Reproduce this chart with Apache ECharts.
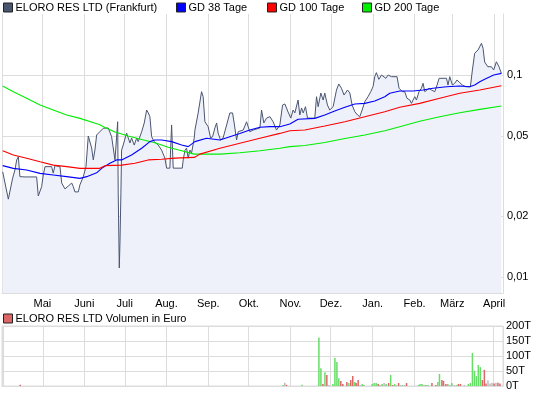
<!DOCTYPE html>
<html><head><meta charset="utf-8">
<script src="https://cdn.jsdelivr.net/npm/echarts@6/dist/echarts.min.js"></script>
<style>html,body{margin:0;padding:0;background:#fff}#c{width:545px;height:395px}</style>
</head><body><div id="c"></div>
<script>
const startDate = '2012-04-01T00:00:00';
const endDate = '2013-04-07T14:24:00';
const monthNames = ['Jan.','Feb.','März','April','Mai','Juni','Juli','Aug.','Sep.','Okt.','Nov.','Dez.'];
const yTicks = [0.01, 0.02, 0.05, 0.1];
const volTicks = [0, 50, 100, 150, 200];
const seriesNames = ['ELORO RES LTD (Frankfurt)', 'GD 38 Tage', 'GD 100 Tage', 'GD 200 Tage'];
const volName = 'ELORO RES LTD Volumen in Euro';

// price: day offset from startDate, closing price (EUR)
const priceDay = [
0.5,4.7,7.9,9.6,10.9,12.1,13.3,17.0,25.7,26.9,
28.2,29.4,30.6,31.9,36.8,38.0,39.3,43.0,44.3,46.7,
49.1,51.7,52.9,54.1,56.6,57.8,60.3,62.3,64.0,65.2,
66.5,67.7,68.9,70.2,72.6,75.1,78.8,81.3,83.8,85.8,
86.2,87.0,87.5,88.2,88.7,89.9,92.4,93.6,94.9,96.1,
98.1,99.9,101.0,103.6,105.5,107.3,108.5,109.7,111.0,112.9,
115.9,118.4,120.8,122.1,124.5,125.8,127.0,133.7,134.4,135.7,
136.9,138.1,139.4,140.6,142.6,143.1,145.5,148.0,149.2,150.5,
152.9,154.7,156.2,157.9,159.2,160.3,162.1,164.0,166.6,169.0,
171.0,172.2,174.0,175.2,178.9,181.4,182.6,183.8,186.3,191.3,
192.5,194.2,196.2,198.7,201.1,203.6,206.1,208.1,209.8,212.2,
214.2,215.9,217.2,219.6,220.9,222.2,223.4,225.1,226.6,232.0,
233.3,234.5,236.5,238.2,239.4,241.4,243.1,245.6,248.1,249.8,
251.8,253.7,256.3,258.0,259.7,261.7,263.7,265.4,267.1,269.1,
271.5,273.5,275.2,276.5,277.7,279.5,281.5,284.7,286.4,288.9,
293.0,294.5,297.0,298.7,300.4,302.5,303.7,304.9,306.2,307.4,
309.3,311.1,312.3,313.6,314.8,316.8,318.5,321.0,322.7,324.2,
329.7,330.8,332.1,334.1,335.8,337.5,339.5,341.5,344.0,347.4,
348.9,350.6,353.1,355.6,356.8,358.0,360.3,363.0,364.7,366.7,
368.6,370.4];
const priceVal = [
.0332,.0243,.0309,.0339,.0380,.0394,.0314,.0313,.0313,.0252,
.0252,.0280,.0320,.0352,.0352,.0327,.0356,.0352,.0292,.0273,
.0282,.0292,.0280,.0264,.0264,.0286,.0314,.0352,.0499,.0499,
.0435,.0380,.0425,.0505,.0524,.0545,.0547,.0495,.0380,.0587,
.0261,.0111,.0149,.0261,.0425,.0450,.0516,.0516,.0461,.0488,
.0450,.0488,.0468,.0524,.0579,.0671,.0649,.0622,.0495,.0468,
.0450,.0425,.0388,.0346,.0346,.0566,.0346,.0346,.0380,.0425,
.0435,.0388,.0425,.0411,.0488,.0534,.0649,.0827,.0781,.0587,
.0555,.0488,.0495,.0547,.0579,.0516,.0477,.0488,.0566,.0649,
.0649,.0579,.0477,.0524,.0534,.0587,.0555,.0524,.0534,.0547,
.0671,.0579,.0612,.0622,.0587,.0534,.0566,.0710,.0719,.0656,
.0612,.0671,.0649,.0752,.0634,.0687,.0649,.0697,.0612,.0612,
.0781,.0697,.0814,.0752,.0814,.0710,.0671,.0697,.0843,.0903,
.0860,.0796,.0843,.0814,.0710,.0658,.0634,.0622,.0671,.0738,
.0781,.0827,.0875,.0981,.1027,.0952,.1000,.0963,.1000,.0981,
.0981,.0860,.0827,.0827,.0767,.0752,.0724,.0752,.0781,.0752,
.0827,.0860,.0910,.0827,.0843,.0860,.0843,.0827,.0892,.0963,
.0963,.0892,.0981,.0892,.0910,.0945,.0916,.0892,.0875,.0875,
.1059,.1281,.1330,.1435,.1356,.1160,.1099,.1099,.1059,.1163,
.1099,.1019];

const gd38Day = [0.5,8.4,18.3,28.2,38.0,48.0,57.8,62.8,70.2,73.9,80.0,85.0,88.7,96.1,103.6,109.7,113.4,118.4,125.8,133.2,138.1,143.1,151.7,161.6,169.0,176.4,183.8,191.3,198.7,206.1,213.5,219.6,232.0,239.4,246.8,254.3,261.7,269.1,276.5,283.9,287.6,295.0,304.9,312.3,319.7,329.7,339.5,346.9,350.6,354.4,358.0,364.7,370.4];
const gd38Val = [.0356,.0345,.0339,.0326,.0320,.0314,.0308,.0314,.0328,.0345,.0366,.0380,.0380,.0402,.0434,.0468,.0477,.0477,.0468,.0450,.0442,.0468,.0486,.0477,.0495,.0514,.0534,.0551,.0555,.0555,.0572,.0604,.0610,.0634,.0663,.0692,.0719,.0724,.0743,.0781,.0812,.0833,.0833,.0843,.0860,.0875,.0882,.0875,.0892,.0926,.0952,.1000,.1019];

const gd100Day = [0.5,8.4,18.3,28.2,38.0,48.0,57.8,72.1,76.4,88.7,98.6,108.5,118.4,128.2,142.6,146.8,161.6,176.4,191.3,206.1,213.5,224.6,239.4,254.3,269.1,283.9,295.0,309.8,324.7,339.5,354.4,370.4];
const gd100Val = [.0422,.0402,.0387,.0372,.0358,.0352,.0345,.0345,.0356,.0358,.0366,.0380,.0383,.0388,.0391,.0406,.0434,.0459,.0486,.0514,.0530,.0534,.0559,.0587,.0622,.0658,.0692,.0724,.0767,.0812,.0843,.0885];

const gd200Day = [0.5,8.4,18.3,28.2,38.0,48.0,57.8,72.1,76.4,83.8,93.6,103.6,113.4,123.3,133.2,142.6,146.8,161.6,176.4,191.3,206.1,213.5,224.6,239.4,254.3,269.1,283.9,295.0,309.8,324.7,339.5,354.4,370.4];
const gd200Val = [.0882,.0827,.0767,.0710,.0671,.0634,.0610,.0569,.0550,.0522,.0499,.0480,.0462,.0439,.0422,.0406,.0406,.0406,.0412,.0422,.0434,.0442,.0448,.0463,.0485,.0505,.0530,.0555,.0590,.0622,.0650,.0676,.0703];

// volume: day offset, thousand EUR, direction (g = up, r = down, n = unchanged)
const volDay = [13.0,208.5,209.8,211.1,222.6,235.2,236.7,238.2,239.7,241.1,242.6,245.6,247.1,248.6,250.0,251.5,253.0,256.0,257.5,258.9,260.4,261.9,262.9,264.4,265.9,267.4,268.6,274.8,276.3,277.8,279.3,280.7,282.2,283.7,285.2,287.1,288.6,290.1,291.6,293.0,294.5,296.0,297.5,299.0,300.4,309.3,310.4,311.9,313.4,314.8,316.3,319.3,322.2,323.7,324.9,326.7,327.9,329.7,331.1,332.6,334.1,336.0,337.5,339.0,340.5,343.4,346.4,347.9,349.4,350.9,352.3,353.8,355.3,356.8,358.3,359.5,361.0,362.5,364.0,365.5,366.9,368.4,369.9];
const volVal = [4,3,11,4,4,162,59,7,46,37,3,7,93,80,26,17,7,13,10,20,33,13,10,20,3,7,3,7,10,10,7,3,7,10,7,10,37,3,7,3,10,3,3,3,10,3,7,7,3,3,3,10,3,13,40,20,17,7,7,3,10,3,3,7,7,3,7,10,110,51,33,70,63,20,54,8,18,8,11,8,11,11,8];
const volDir = ['r','g','n','r','g','g','g','r','g','r','n','g','g','g','g','r','r','r','g','r','r','g','r','r','n','g','g','g','g','g','r','n','g','n','g','r','g','r','g','n','r','n','g','n','r','g','g','g','n','g','g','r','r','g','g','r','r','r','g','n','g','n','g','r','r','n','g','g','g','g','g','g','g','r','r','r','n','n','n','r','n','r','r'];

const DAY = 86400000;
const t0 = new Date(startDate).getTime();
const tEnd = new Date(endDate).getTime();
const pair = (days, vals) => days.map((d, i) => [t0 + d * DAY, vals[i]]);
const dirColor = {g: '#66dd66', r: '#dd6666', n: '#bbbbbb'};

const FONT = 'Liberation Sans, Arial, sans-serif';
const grid = '#dcdcdc';
const txt = {fontFamily: FONT, fontSize: 11, color: '#000'};
const logMin = 0.00834, logMax = 0.2004;

const chart = echarts.init(document.getElementById('c'), null, {renderer: 'canvas'});
const xCommon = {
  type: 'time', min: t0, max: tEnd, splitNumber: 12,
  minInterval: 28 * DAY, maxInterval: 31 * DAY,
  axisTick: {show: false},
  axisLine: {show: true, lineStyle: {color: grid}},
  splitLine: {show: true, lineStyle: {color: grid, width: 1}}
};
chart.setOption({
  animation: false,
  textStyle: {fontFamily: FONT},
  legend: [
    {left: 3, top: 2, data: [seriesNames[0]]},
    {left: 176, top: 2, data: [seriesNames[1]]},
    {left: 267, top: 2, data: [seriesNames[2]]},
    {left: 362, top: 2, data: [seriesNames[3]]},
    {left: 3, top: 313, data: [volName]}
  ].map(l => Object.assign(l, {
    icon: 'rect', itemWidth: 9, itemHeight: 9, itemGap: 0, padding: 0,
    textStyle: Object.assign({}, txt, {padding: [0, 0, 0, -2]}),
    itemStyle: {borderColor: '#222', borderWidth: 1}
  })),
  grid: [
    {left: 2, right: 42, top: 14, bottom: 102, show: false, outerBoundsMode: 'none', containLabel: false},
    {left: 2, right: 42, top: 326, bottom: 9, show: true, borderColor: grid, borderWidth: 1, outerBoundsMode: 'none', containLabel: false}
  ],
  xAxis: [
    Object.assign({}, xCommon, {gridIndex: 0,
      axisLabel: Object.assign({}, txt, {margin: 5, showMinLabel: false,
        formatter: v => (v < t0 + 2 * DAY ? '' : monthNames[new Date(v).getMonth()])})}),
    Object.assign({}, xCommon, {gridIndex: 1, axisLabel: {show: false}})
  ],
  yAxis: [
    {type: 'log', logBase: 10, gridIndex: 0, position: 'right', min: logMin, max: logMax,
      axisLine: {show: true, lineStyle: {color: grid}},
      axisTick: {show: false, customValues: yTicks},
      axisLabel: Object.assign({}, txt, {margin: 4, customValues: yTicks,
        formatter: v => String(parseFloat(Number(v).toPrecision(3))).replace('.', ',')}),
      splitLine: {show: true, lineStyle: {color: grid, width: 1}}},
    {type: 'value', gridIndex: 1, position: 'right', min: volTicks[0], max: volTicks[volTicks.length - 1], interval: 50,
      axisLine: {show: false}, axisTick: {show: false},
      axisLabel: Object.assign({}, txt, {margin: 3, formatter: v => v + 'T'}),
      splitLine: {show: true, lineStyle: {color: grid, width: 1}}},
    {type: 'log', logBase: 10, gridIndex: 0, position: 'left', min: logMin, max: logMax,
      axisLine: {show: true, lineStyle: {color: grid}},
      axisTick: {show: false}, axisLabel: {show: false}, splitLine: {show: false}}
  ],
  series: [
    {name: seriesNames[0], type: 'line', xAxisIndex: 0, yAxisIndex: 0, data: pair(priceDay, priceVal),
      showSymbol: false, symbol: 'none', color: '#4a5570',
      lineStyle: {color: '#4a5570', width: 1},
      areaStyle: {color: '#eef1f9', opacity: 1, origin: 'start'}, z: 2},
    {name: seriesNames[1], type: 'line', data: pair(gd38Day, gd38Val), showSymbol: false, symbol: 'none',
      color: '#0000ff', lineStyle: {color: '#0000ff', width: 1.1}, z: 4},
    {name: seriesNames[2], type: 'line', data: pair(gd100Day, gd100Val), showSymbol: false, symbol: 'none',
      color: '#ff0000', lineStyle: {color: '#ff0000', width: 1.1}, z: 4},
    {name: seriesNames[3], type: 'line', data: pair(gd200Day, gd200Val), showSymbol: false, symbol: 'none',
      color: '#00ee00', lineStyle: {color: '#00ee00', width: 1.1}, z: 3},
    {name: volName, type: 'bar', xAxisIndex: 1, yAxisIndex: 1, color: '#dd6666', barWidth: 1.5,
      data: volDay.map((d, i) => ({value: [t0 + d * DAY, volVal[i]], itemStyle: {color: dirColor[volDir[i]]}}))}
  ]
});
</script>
</body></html>
